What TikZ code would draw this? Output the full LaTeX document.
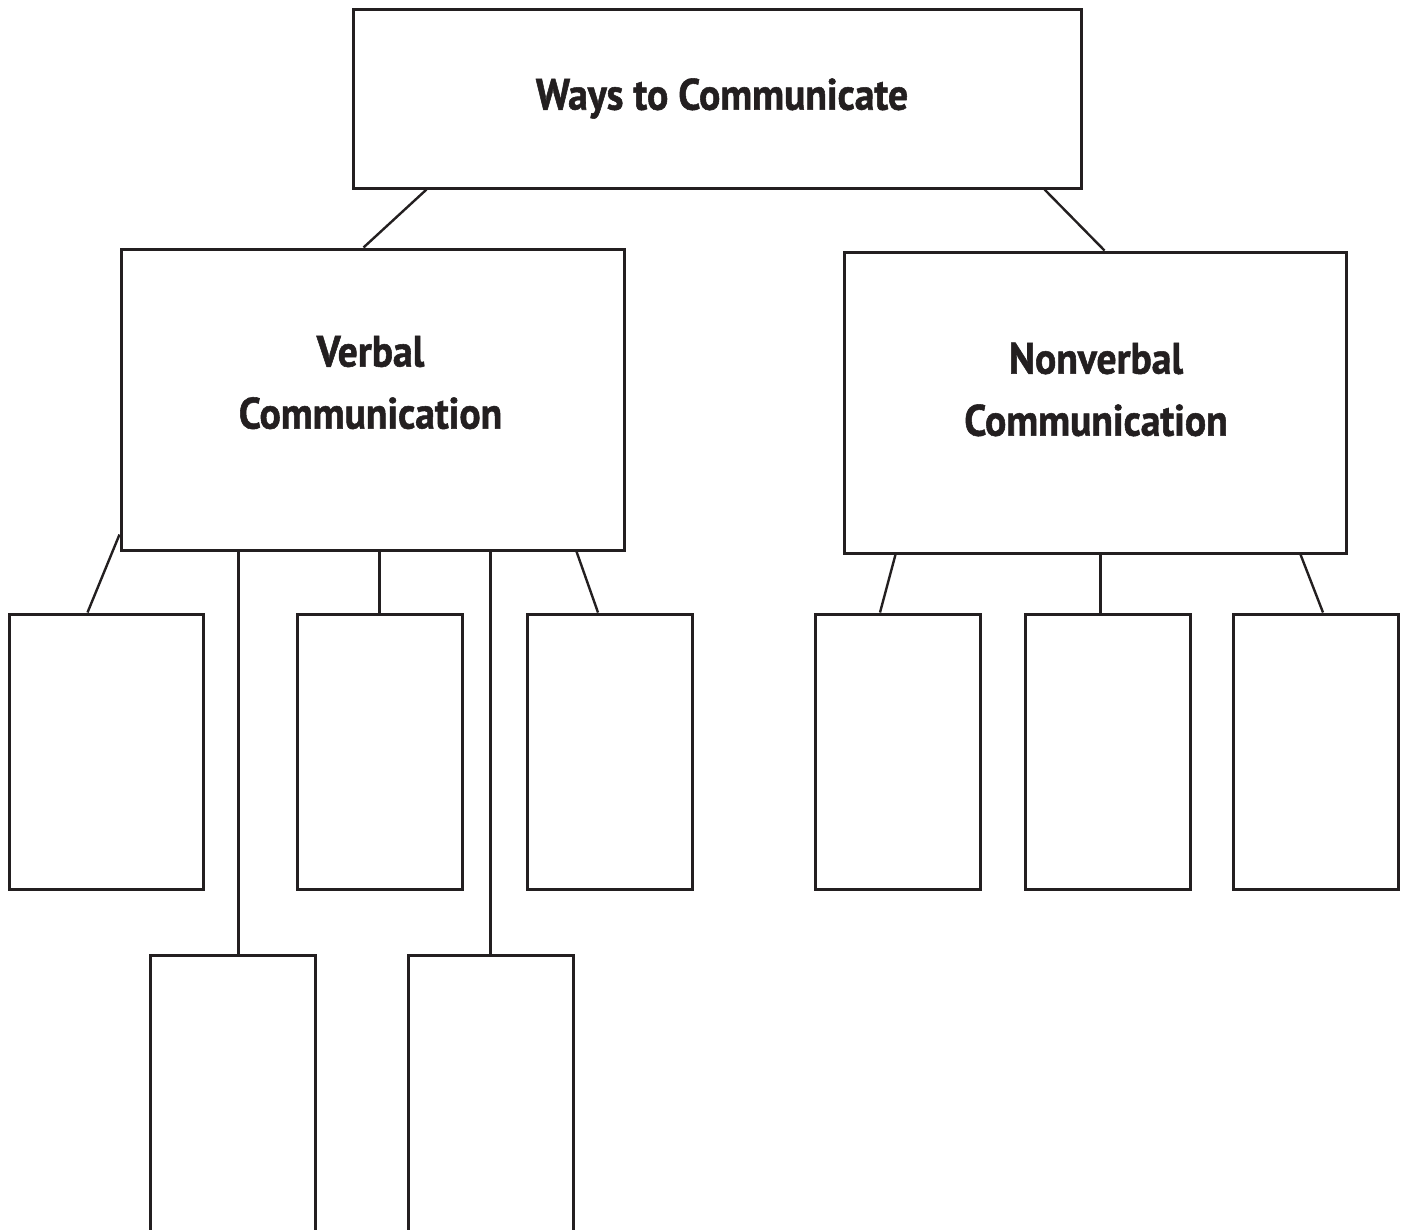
\documentclass[tikz,border=0pt]{standalone}
\usepackage{fontspec}
\usepackage{tikz}
\usetikzlibrary{calc}
\newfontfamily\boxfont{PT Sans}[FakeStretch=0.9,FakeBold=1.2]
\definecolor{inkblack}{RGB}{35,31,32}

\begin{document}
\begin{tikzpicture}[x=1pt, y=-1pt, line width=3pt, draw=inkblack,
    box/.style={draw=inkblack, line width=3pt, rectangle, inner sep=0pt},
    boxtext/.style={inner sep=0pt, align=center, text=inkblack,
        font=\boxfont\bfseries\fontsize{44}{62}\selectfont},
    link/.style={draw=inkblack, line width=2.4pt}]
    \useasboundingbox (0,0) rectangle (1404,1229);
    \clip (0,0) rectangle (1404,1229);

    % Heading boxes
    \node[box, minimum width=728pt, minimum height=179pt] (top) at (717,98.5) {};
    \node[box, minimum width=503pt, minimum height=301pt] (verbal) at (372.5,399.5) {};
    \node[box, minimum width=502pt, minimum height=301pt] (nonverbal) at (1095,402.5) {};

    % Heading texts
    \node[boxtext] (toptext) at ($(top)+(5,0)$) {Ways to Communicate};
    \node[boxtext] (verbaltext) at ($(verbal)+(-2,-17)$) {Verbal\\Communication};
    \node[boxtext] (nonverbaltext) at ($(nonverbal)+(1,-13)$) {Nonverbal\\Communication};

    % Empty cells, first row
    \node[box, minimum width=194pt, minimum height=275pt] (vA) at (106,751.5) {};
    \foreach \name/\x in {vB/379.5, vC/610, nA/898, nB/1107.5, nC/1316} {
        \node[box, minimum width=165pt, minimum height=275pt] (\name) at (\x,751.5) {};
    }

    % Empty cells, second row (run off the page)
    \foreach \name/\x in {vD/232.5, vE/490.5} {
        \node[box, minimum width=165pt, minimum height=285pt] (\name) at (\x,1097.5) {};
    }

    % Links
    \draw[link] ($(top.south west)+(75,0)$) -- ($(verbal.north west)+(244,0)$);
    \draw[link] ($(top.south east)+(-38,0)$) -- ($(nonverbal.north west)+(262,0)$);

    \draw[link] ($(verbal.south west)+(0,-17)$) -- ($(vA.north west)+(80,0)$);
    \draw[link] (verbal.south -| vB.north) -- (vB.north);
    \draw[link] ($(verbal.south west)+(457,0)$) -- ($(vC.north west)+(72,0)$);
    \draw[link] ($(verbal.south west)+(119,0)$) -- ($(vD.north west)+(90,0)$);
    \draw[link] (verbal.south -| vE.north) -- (vE.north);

    \draw[link] ($(nonverbal.south west)+(53,0)$) -- ($(nA.north west)+(66,0)$);
    \draw[link] ($(nonverbal.south west)+(258,0)$) -- ($(nB.north west)+(77,0)$);
    \draw[link] ($(nonverbal.south west)+(458,0)$) -- ($(nC.north west)+(91,0)$);

\end{tikzpicture}
\end{document}
